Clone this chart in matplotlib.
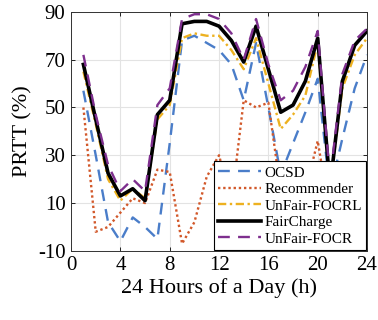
import matplotlib
matplotlib.use("Agg")
import matplotlib.pyplot as plt

plt.rcParams['font.family'] = ['Liberation Serif', 'DejaVu Serif']
plt.rcParams['axes.unicode_minus'] = False

hours = list(range(1, 25))

ocsd = [57, 30, 2, -6, 4, 0, -5, 35, 78, 80, 77, 74, 68, 53, 77, 50, 22, 35, 48, 62, 15, 37, 58, 72]
recommender = [50, -2, 0, 6, 12, 10, 24, 23, -7, 2, 21, 30, 10, 53, 50, 52, 15, 5, 15, 36, 5, 5, 5, 7]
unfair_focrl = [65, 43, 20, 11, 16, 12, 45, 51, 79, 81, 80, 80, 74, 66, 79, 60, 41, 47, 55, 77, 17, 58, 72, 79]
faircharge = [68, 45, 22.5, 13, 16, 11, 47, 53, 85, 86, 86, 84, 78, 69, 84, 66, 48, 51, 61, 79, 17, 61, 76, 82]
unfair_focr = [72, 47, 26, 15, 20, 15, 51, 58, 87, 89, 89, 87, 81, 70, 87, 68, 53, 57, 67, 82, 20, 64, 78, 83]

xticks = [0, 4, 8, 12, 16, 20, 24]
yticks = [-10, 10, 30, 50, 70, 90]

fig = plt.figure(figsize=(3.78, 3.2), dpi=100)
ax = fig.add_axes([0.188, 0.216, 0.783, 0.747])

ax.plot(hours, ocsd, color='#4A7DC9', lw=1.7, ls=(0, (5, 3.5)), label='OCSD')
ax.plot(hours, recommender, color='#D2582A', lw=1.7, ls=(0, (1, 1.2)), label='Recommender')
ax.plot(hours, unfair_focrl, color='#EDB120', lw=1.7, ls=(0, (3.5, 1.5, 1, 1.5)), label='UnFair-FOCRL')
ax.plot(hours, faircharge, color='black', lw=2.6, label='FairCharge')
ax.plot(hours, unfair_focr, color='#7E2F8E', lw=1.7, ls=(0, (5, 3.5)), label='UnFair-FOCR')

ax.set_xlim(0, 24)
ax.set_ylim(-10, 90)
ax.set_xticks(xticks)
ax.set_yticks(yticks)
ax.tick_params(direction='in', length=3, labelsize=15, top=True, right=True, width=0.6, pad=4)
ax.grid(True, color='#E3E3E3', lw=0.8)
ax.set_axisbelow(True)
for s in ax.spines.values():
    s.set_linewidth(0.7)
    s.set_color('#333333')

ax.set_xlabel('24 Hours of a Day (h)', fontsize=16, labelpad=2)
ax.set_ylabel('PRTT (%)', fontsize=16, labelpad=4)

leg = ax.legend(loc='lower right', fontsize=11, frameon=True, fancybox=False,
                edgecolor='black', framealpha=1, handlelength=2.8,
                borderpad=0.3, labelspacing=0.18, handletextpad=0.2,
                borderaxespad=0.05)
leg.get_frame().set_linewidth(0.8)

fig.savefig('out.png', dpi=100)
